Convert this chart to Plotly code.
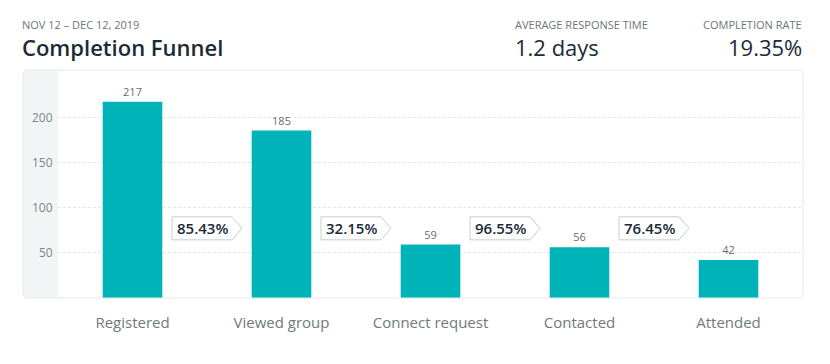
import plotly.graph_objects as go

# ---- data ----
stages = ["Registered", "Viewed group", "Connect request", "Contacted", "Attended"]
counts = [217, 185, 59, 56, 42]
step_rates = ["85.43%", "32.15%", "96.55%", "76.45%"]
y_ticks = [50, 100, 150, 200]
date_range = "NOV 12 \u2013 DEC 12, 2019"
title_text = "Completion Funnel"
avg_label, avg_value = "AVERAGE RESPONSE TIME", "1.2 days"
rate_label, rate_value = "COMPLETION RATE", "19.35%"

# ---- geometry (pixels); page body has an 8px margin ----
OFF = 8
W, H = 830 - OFF, 364 - OFF
PL, PR, PT, PB = 58 - OFF, 803 - OFF, 70 - OFF, 298 - OFF   # plot box in figure px
ML, MR, MT, MB = PL, W - PR, PT, H - PB
PW, PH = PR - PL, PB - PT
FONT = "Open Sans, Noto Sans, sans-serif"
TEAL = "#00b3b9"

def px(x):
    return (x - OFF - PL) / PW

def py(y):
    return (PB - (y - OFF)) / PH

xs = list(range(len(stages)))
fig = go.Figure()
fig.add_trace(go.Bar(
    x=xs, y=counts, width=0.4, marker=dict(color=TEAL, line=dict(width=0)),
    text=[str(c) for c in counts], textposition="outside",
    textfont=dict(size=11, color="#666e6e", family=FONT),
    cliponaxis=False, hoverinfo="skip",
))

def rounded(x0, y0, x1, y1, r, left_only=False):
    if left_only:
        return (f"M {x1},{y0} L {x0+r},{y0} Q {x0},{y0} {x0},{y0+r} "
                f"L {x0},{y1-r} Q {x0},{y1} {x0+r},{y1} L {x1},{y1} Z")
    return (f"M {x0+r},{y0} L {x1-r},{y0} Q {x1},{y0} {x1},{y0+r} "
            f"L {x1},{y1-r} Q {x1},{y1} {x1-r},{y1} L {x0+r},{y1} "
            f"Q {x0},{y1} {x0},{y1-r} L {x0},{y0+r} Q {x0},{y0} {x0+r},{y0} Z")

shapes = [
    dict(type="path", xref="paper", yref="paper", xsizemode="pixel", ysizemode="pixel",
         xanchor=0, yanchor=0, path=rounded(-35, 0, 0, PH, 5, left_only=True),
         fillcolor="#f2f5f6", line=dict(width=0), layer="below"),
    dict(type="path", xref="paper", yref="paper", xsizemode="pixel", ysizemode="pixel",
         xanchor=0, yanchor=0, path=rounded(-35, 0, PW, PH, 5),
         fillcolor="rgba(0,0,0,0)", line=dict(color="#e3eaea", width=1), layer="above"),
]

annotations = []
for i, rate in enumerate(step_rates):
    bx = i + 0.5
    shapes.append(dict(
        type="path", xref="x", yref="y", xsizemode="pixel", ysizemode="pixel",
        xanchor=bx, yanchor=77,
        path="M -35,-11.5 L 25,-11.5 L 35,0 L 25,11.5 L -35,11.5 Z",
        fillcolor="white", line=dict(color="#c4cfcd", width=1), layer="above"))
    annotations.append(dict(
        x=bx, y=77, xref="x", yref="y", text=rate, showarrow=False,
        xshift=-5, font=dict(size=15, color="#1b2a38", family=FONT, weight=600)))

# y-axis tick labels placed just left of the plot edge
for t in y_ticks:
    annotations.append(dict(
        x=0, y=t, xref="paper", yref="y", text=str(t), showarrow=False,
        xanchor="right", yanchor="middle", xshift=-3,
        font=dict(size=12, color="#7b8585", family=FONT)))

def hdr(text, x, y, size, color, anchor="left", weight=400):
    annotations.append(dict(text=text, x=px(x), y=py(y), xref="paper", yref="paper",
                            xanchor=anchor, yanchor="middle", showarrow=False,
                            font=dict(size=size, color=color, family=FONT, weight=weight)))

hdr(date_range, 20, 24, 11, "#6b7676")
hdr(title_text, 20, 47, 22, "#1b2a38", weight=600)
hdr(avg_label, 513, 24, 11, "#6b7676")
hdr(avg_value, 513, 47, 22, "#1b2a38")
hdr(rate_label, 804, 24, 11, "#6b7676", anchor="right")
hdr(rate_value, 804, 47, 22, "#1b2a38", anchor="right")

fig.update_layout(
    width=W, height=H, margin=dict(l=ML, r=MR, t=MT, b=MB),
    paper_bgcolor="white", plot_bgcolor="rgba(0,0,0,0)",
    showlegend=False, shapes=shapes, annotations=annotations,
    font=dict(family=FONT),
    xaxis=dict(range=[-0.5, len(stages) - 0.5], tickvals=xs, ticktext=stages,
               showgrid=False, zeroline=False, showline=False,
               ticks="", ticklabelstandoff=14,
               tickfont=dict(size=15, color="#6f7a7a", family=FONT)),
    yaxis=dict(range=[0, 252], tickvals=y_ticks, showgrid=True,
               gridcolor="#e1e7e8", griddash="3px,2px", gridwidth=1,
               zeroline=False, showline=False, ticks="", showticklabels=False),
)
fig.write_html("out.html")
